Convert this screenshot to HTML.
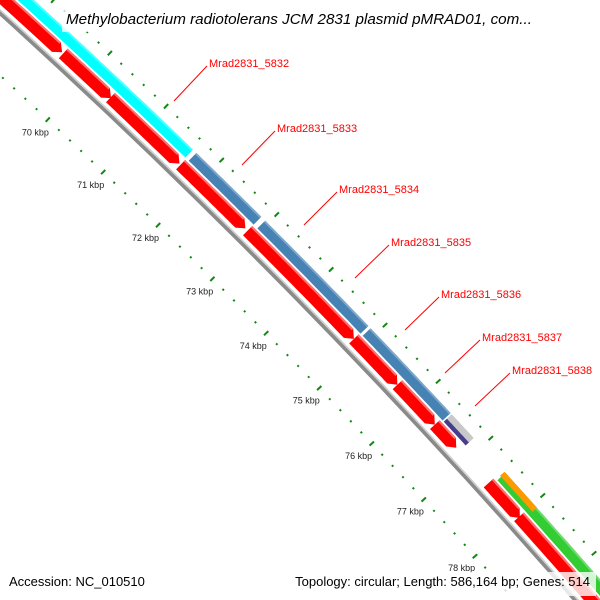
<!DOCTYPE html>
<html><head><meta charset="utf-8"><style>
html,body{margin:0;padding:0;background:#fff;width:600px;height:600px;overflow:hidden;}
svg{display:block;font-family:"Liberation Sans",sans-serif;overflow:hidden;}
</style></head><body>
<svg id="map" width="600" height="600" viewBox="0 0 600 600" xmlns="http://www.w3.org/2000/svg">
<rect width="600" height="600" fill="#fff"/>
<g id="lanes"></g>
<g id="ticks"></g>
<g id="labels" font-size="11" fill="#ff0000">
  <line x1="174" y1="101" x2="207" y2="66" stroke="#ff0000" stroke-width="1"/>
  <text x="209" y="67">Mrad2831_5832</text>
  <line x1="242" y1="165" x2="275" y2="131" stroke="#ff0000" stroke-width="1"/>
  <text x="277" y="132">Mrad2831_5833</text>
  <line x1="304" y1="225" x2="337" y2="192" stroke="#ff0000" stroke-width="1"/>
  <text x="339" y="193">Mrad2831_5834</text>
  <line x1="355" y1="278" x2="389" y2="245" stroke="#ff0000" stroke-width="1"/>
  <text x="391" y="246">Mrad2831_5835</text>
  <line x1="405" y1="330" x2="439" y2="297" stroke="#ff0000" stroke-width="1"/>
  <text x="441" y="298">Mrad2831_5836</text>
  <line x1="445" y1="373" x2="480" y2="340" stroke="#ff0000" stroke-width="1"/>
  <text x="482" y="341">Mrad2831_5837</text>
  <line x1="475" y1="406" x2="510" y2="373" stroke="#ff0000" stroke-width="1"/>
  <text x="512" y="374">Mrad2831_5838</text>
</g>
<rect x="62" y="4" width="476" height="28" fill="#fff" fill-opacity="0.75"/>
<text x="66" y="24" font-size="15.2" font-style="italic" fill="#000">Methylobacterium radiotolerans JCM 2831 plasmid pMRAD01, com...</text>
<text x="9" y="586" font-size="13" fill="#000">Accession: NC_010510</text>
<rect x="278" y="572" width="318" height="24" fill="#fff" fill-opacity="0.8"/>
<text x="590" y="586" font-size="13" fill="#000" text-anchor="end">Topology: circular; Length: 586,164 bp; Genes: 514</text>
</svg>
<script>
// feature data (kbp)
const redStarts = [66.0, 69.56, 70.40, 71.66, 72.88, 74.85, 75.67, 76.38, 77.41, 78.00];
const redEnds   = [69.54, 70.41, 71.64, 72.84, 74.85, 75.67, 76.38, 76.79, 78.02, 81.0];
const outerStarts = [65.0, 71.68, 72.93, 74.88, 77.44];
const outerEnds   = [71.66, 72.90, 74.88, 76.43, 81.0];
const outerColors = ["#00ffff", "#4682b4", "#4682b4", "#4682b4", "#33cc33"];
const greyStart = [76.43];
const greyEnd = [76.85];
const orangeStart = [77.44];
const orangeEnd = [78.07];
const tickLabels = [68, 69, 70, 71, 72, 73, 74, 75, 76, 77, 78, 79, 80];

const NS = "http://www.w3.org/2000/svg";
const C = {x: -4699, y: 5192};
function ang(k){ return (-46.9 + (k - 70) * 0.63) * Math.PI / 180; }
function pt(r, a){ return [C.x + r * Math.cos(a), C.y + r * Math.sin(a)]; }
function band(r1, r2, k1, k2){
  const p = [], n = 24;
  for (let i = 0; i <= n; i++){ const a = ang(k1 + (k2 - k1) * i / n); p.push(pt(r2, a)); }
  for (let i = n; i >= 0; i--){ const a = ang(k1 + (k2 - k1) * i / n); p.push(pt(r1, a)); }
  return p.map(q => q[0].toFixed(1) + "," + q[1].toFixed(1)).join(" ");
}
function arrow(r1, r2, k1, k2){
  const h = 0.1, p = [], n = 24, ke = k2 - h;
  for (let i = 0; i <= n; i++) p.push(pt(r2, ang(k1 + (ke - k1) * i / n)));
  p.push(pt((r1 + r2) / 2, ang(k2)));
  for (let i = n; i >= 0; i--) p.push(pt(r1, ang(k1 + (ke - k1) * i / n)));
  return p.map(q => q[0].toFixed(1) + "," + q[1].toFixed(1)).join(" ");
}
function poly(parent, pts, fill, op){
  const e = document.createElementNS(NS, "polygon");
  e.setAttribute("points", pts);
  e.setAttribute("fill", fill);
  if (op !== undefined) e.setAttribute("fill-opacity", op);
  parent.appendChild(e);
  return e;
}
const lanes = document.getElementById("lanes");
let bb = poly(lanes, band(6991, 6996, 63, 83), "#8a8a8a");


let bbh = poly(lanes, band(6994.5, 6996, 63, 83), "#d0d0d0");


for (let i = 0; i < redStarts.length; i++){
  const e = poly(lanes, arrow(6999.5, 7012.5, redStarts[i], redEnds[i]), "#ff0000");
  
  
  const hl = poly(lanes, band(7010.5, 7012.5, redStarts[i], redEnds[i] - 0.1), "#ff7070");
  
  
}
for (let i = 0; i < outerStarts.length; i++){
  const e = poly(lanes, band(7014.5, 7025.5, outerStarts[i] + 0.02, outerEnds[i] - 0.02), outerColors[i]);
  
  
  const hl = poly(lanes, band(7023.5, 7025.5, outerStarts[i] + 0.02, outerEnds[i] - 0.02), "#ffffff", 0.3);
  
  
}
for (let i = 0; i < greyStart.length; i++){
  const p = poly(lanes, band(7014.5, 7019, greyStart[i], greyEnd[i]), "#483d8b");
  
  
  const g = poly(lanes, band(7019, 7025.5, greyStart[i], greyEnd[i]), "#c8c8c8");
  
  
}
for (let i = 0; i < orangeStart.length; i++){
  const o = poly(lanes, band(7019.5, 7025.5, orangeStart[i], orangeEnd[i]), "#ff9900");
  
  
}
const ticks = document.getElementById("ticks");
for (let t = 640; t <= 820; t += 2){
  const k = t / 10, major = (t % 10 === 0), a = ang(k);
  [[7038, major ? 3 : 1], [6947, major ? 3 : 1]].forEach(([r, l]) => {
    const p1 = pt(r - l, a), p2 = pt(r + l, a);
    const ln = document.createElementNS(NS, "line");
    ln.setAttribute("x1", p1[0].toFixed(1)); ln.setAttribute("y1", p1[1].toFixed(1));
    ln.setAttribute("x2", p2[0].toFixed(1)); ln.setAttribute("y2", p2[1].toFixed(1));
    ln.setAttribute("stroke", "#118811"); ln.setAttribute("stroke-width", "2");
    
    
    ticks.appendChild(ln);
  });
}
for (let i = 0; i < tickLabels.length; i++){
  const p = pt(6929, ang(tickLabels[i]));
  const tx = document.createElementNS(NS, "text");
  tx.setAttribute("x", p[0].toFixed(1)); tx.setAttribute("y", (p[1] + 3).toFixed(1));
  tx.setAttribute("text-anchor", "middle"); tx.setAttribute("font-size", "9");
  tx.setAttribute("fill", "#222");
  tx.textContent = tickLabels[i] + " kbp";
  
  
  ticks.appendChild(tx);
}
</script>
</body></html>
